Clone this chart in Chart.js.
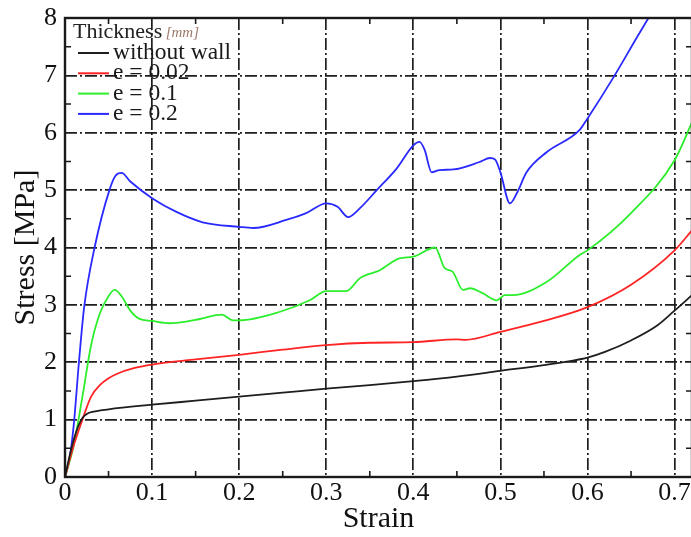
<!DOCTYPE html>
<html>
<head>
<meta charset="utf-8">
<title>Stress vs Strain</title>
<script src="https://cdn.jsdelivr.net/npm/chart.js@4.4.1/dist/chart.umd.min.js"></script>
<style>
    html, body { margin: 0; padding: 0; background: #fff; overflow: hidden; }
    #wrap { width: 720px; height: 537px; }
</style>
</head>
<body>
<div id="wrap"><canvas id="stressChart" width="720" height="537"></canvas></div>
<script>
// Stress-strain curves for different wall thicknesses

// Data
const seriesLabels = ['without wall', 'e = 0.02', 'e = 0.1', 'e = 0.2'];
const seriesColors = ['#1e1e1e', '#ff2424', '#2cee2c', '#2a2aff'];

const strainNoWall = [0, 0.005, 0.01, 0.015, 0.02, 0.025, 0.03, 0.05, 0.1, 0.15, 0.2, 0.25, 0.3, 0.35, 0.4, 0.45, 0.5, 0.55, 0.58, 0.6, 0.62, 0.65, 0.68, 0.7, 0.72];
const stressNoWall = [0, 0.35, 0.65, 0.88, 1.03, 1.1, 1.13, 1.18, 1.26, 1.33, 1.4, 1.47, 1.54, 1.6, 1.67, 1.75, 1.85, 1.95, 2.02, 2.08, 2.18, 2.38, 2.64, 2.9, 3.17];

const strainE002 = [0, 0.01, 0.02, 0.03, 0.04, 0.05, 0.06, 0.08, 0.1, 0.15, 0.2, 0.25, 0.3, 0.35, 0.4, 0.45, 0.46, 0.5, 0.55, 0.6, 0.65, 0.7, 0.72];
const stressE002 = [0, 0.55, 1.0, 1.4, 1.6, 1.72, 1.8, 1.9, 1.96, 2.05, 2.13, 2.22, 2.3, 2.34, 2.35, 2.4, 2.39, 2.53, 2.72, 2.96, 3.35, 3.95, 4.3];

const strainE01 = [0, 0.01, 0.02, 0.03, 0.04, 0.05, 0.057, 0.065, 0.075, 0.085, 0.1, 0.12, 0.15, 0.174, 0.18, 0.193, 0.2, 0.247, 0.281, 0.3, 0.323, 0.339, 0.361, 0.384, 0.4, 0.425, 0.436, 0.445, 0.457, 0.465, 0.48, 0.496, 0.5, 0.505, 0.514, 0.553, 0.591, 0.6, 0.65, 0.7, 0.72];
const stressE01 = [0, 0.55, 1.4, 2.3, 2.85, 3.15, 3.26, 3.15, 2.9, 2.76, 2.72, 2.68, 2.74, 2.82, 2.83, 2.73, 2.73, 2.88, 3.08, 3.24, 3.24, 3.47, 3.6, 3.81, 3.84, 4.0, 3.64, 3.58, 3.26, 3.29, 3.2, 3.08, 3.12, 3.17, 3.17, 3.4, 3.87, 3.95, 4.6, 5.52, 6.18];

const strainE02 = [0, 0.005, 0.01, 0.016, 0.022, 0.034, 0.051, 0.058, 0.065, 0.075, 0.1, 0.128, 0.158, 0.2, 0.216, 0.254, 0.277, 0.3, 0.313, 0.325, 0.339, 0.358, 0.381, 0.4, 0.407, 0.413, 0.421, 0.43, 0.446, 0.476, 0.488, 0.494, 0.5, 0.511, 0.519, 0.53, 0.553, 0.591, 0.6, 0.63, 0.657, 0.67, 0.68];
const stressE02 = [0, 0.3, 0.9, 2.0, 2.96, 4.0, 5.0, 5.25, 5.3, 5.15, 4.86, 4.62, 4.44, 4.36, 4.34, 4.48, 4.6, 4.77, 4.71, 4.53, 4.69, 5.0, 5.38, 5.78, 5.84, 5.7, 5.31, 5.35, 5.36, 5.49, 5.56, 5.53, 5.31, 4.77, 4.95, 5.31, 5.66, 6.05, 6.25, 6.97, 7.67, 8.0, 8.25];

// Axis settings
const X_MIN = 0, X_MAX = 0.72, X_STEP = 0.1;
const Y_MIN = 0, Y_MAX = 8, Y_STEP = 1;

const FONT_FAMILY = '"Liberation Serif", "Times New Roman", serif';
const GRID_DASH = [12, 3, 2, 3];

function toPoints(xs, ys) {
    return xs.map((x, i) => ({ x: x, y: ys[i] }));
}

// Frame, inward minor ticks and the in-plot legend
const framePlugin = {
    id: 'frame',
    afterDatasetsDraw(chart) {
        const ctx = chart.ctx;
        const area = chart.chartArea;
        const xs = chart.scales.x;
        const ys = chart.scales.y;
        const tick = 6;

        ctx.save();
        ctx.strokeStyle = '#1a1a1a';
        ctx.lineWidth = 1.6;
        ctx.beginPath();
        for (let v = X_MIN + X_STEP / 2; v < X_MAX; v += X_STEP) {
            const px = xs.getPixelForValue(v);
            ctx.moveTo(px, area.bottom); ctx.lineTo(px, area.bottom - tick);
            ctx.moveTo(px, area.top); ctx.lineTo(px, area.top + tick);
        }
        for (let v = Y_MIN + Y_STEP / 2; v < Y_MAX; v += Y_STEP) {
            const py = ys.getPixelForValue(v);
            ctx.moveTo(area.left, py); ctx.lineTo(area.left + tick, py);
            ctx.moveTo(area.right, py); ctx.lineTo(area.right - tick, py);
        }
        ctx.stroke();

        ctx.lineWidth = 2.4;
        ctx.strokeRect(area.left, area.top, area.right - area.left, area.bottom - area.top);

        // legend
        const lx = area.left + 8;
        ctx.fillStyle = '#222';
        ctx.textBaseline = 'alphabetic';
        ctx.textAlign = 'left';
        ctx.font = '22px ' + FONT_FAMILY;
        ctx.fillText('Thickness', lx, area.top + 20);
        const tw = ctx.measureText('Thickness ').width;
        ctx.font = 'italic 15px ' + FONT_FAMILY;
        ctx.fillStyle = '#9c7a6c';
        ctx.fillText('[mm]', lx + tw - 2, area.top + 19);

        chart.data.datasets.forEach((ds, i) => {
            const y = area.top + 35 + i * 20.3;
            ctx.strokeStyle = ds.borderColor;
            ctx.lineWidth = 2;
            ctx.beginPath();
            ctx.moveTo(lx + 5, y);
            ctx.lineTo(lx + 36, y);
            ctx.stroke();
            ctx.fillStyle = '#1a1a1a';
            ctx.font = '23.5px ' + FONT_FAMILY;
            ctx.fillText(ds.label, lx + 40, y + 6);
        });
        ctx.restore();
    }
};

const datasets = [
    [strainNoWall, stressNoWall],
    [strainE002, stressE002],
    [strainE01, stressE01],
    [strainE02, stressE02]
].map((pair, i) => ({
    label: seriesLabels[i],
    data: toPoints(pair[0], pair[1]),
    borderColor: seriesColors[i],
    borderWidth: 1.8,
    pointRadius: 0,
    fill: false,
    cubicInterpolationMode: 'monotone'
}));

const ctx = document.getElementById('stressChart').getContext('2d');
const stressChart = new Chart(ctx, {
    type: 'line',
    data: { datasets: datasets },
    plugins: [framePlugin],
    options: {
        responsive: false,
        animation: false,
        devicePixelRatio: 1,
        layout: { padding: { top: 18, right: 28, left: 0, bottom: 0 } },
        plugins: {
            legend: { display: false },
            tooltip: { enabled: false }
        },
        scales: {
            x: {
                type: 'linear',
                min: X_MIN,
                max: X_MAX,
                border: { display: false, dash: GRID_DASH },
                grid: { color: '#1e1e1e', lineWidth: 1.7, drawTicks: false },
                ticks: {
                    stepSize: X_STEP,
                    includeBounds: false,
                    padding: 1,
                    color: '#111',
                    maxRotation: 0,
                    font: { family: FONT_FAMILY, size: 26 },
                    callback: v => String(+v.toFixed(1))
                },
                title: {
                    display: true,
                    text: 'Strain',
                    color: '#111',
                    font: { family: FONT_FAMILY, size: 30 },
                    padding: { top: 0, bottom: 0 }
                },
                afterFit: s => { s.height = 60; s.paddingLeft = 0; s.paddingRight = 0; }
            },
            y: {
                type: 'linear',
                min: Y_MIN,
                max: Y_MAX,
                border: { display: false, dash: GRID_DASH },
                grid: { color: '#1e1e1e', lineWidth: 1.7, drawTicks: false },
                ticks: {
                    stepSize: Y_STEP,
                    padding: 8,
                    color: '#111',
                    font: { family: FONT_FAMILY, size: 26 }
                },
                title: {
                    display: true,
                    text: 'Stress [MPa]',
                    color: '#111',
                    font: { family: FONT_FAMILY, size: 30 },
                    padding: { top: 8, bottom: 0 }
                },
                afterFit: s => { s.width = 65; s.paddingTop = 0; s.paddingBottom = 0; }
            }
        }
    }
});
</script>
</body>
</html>
